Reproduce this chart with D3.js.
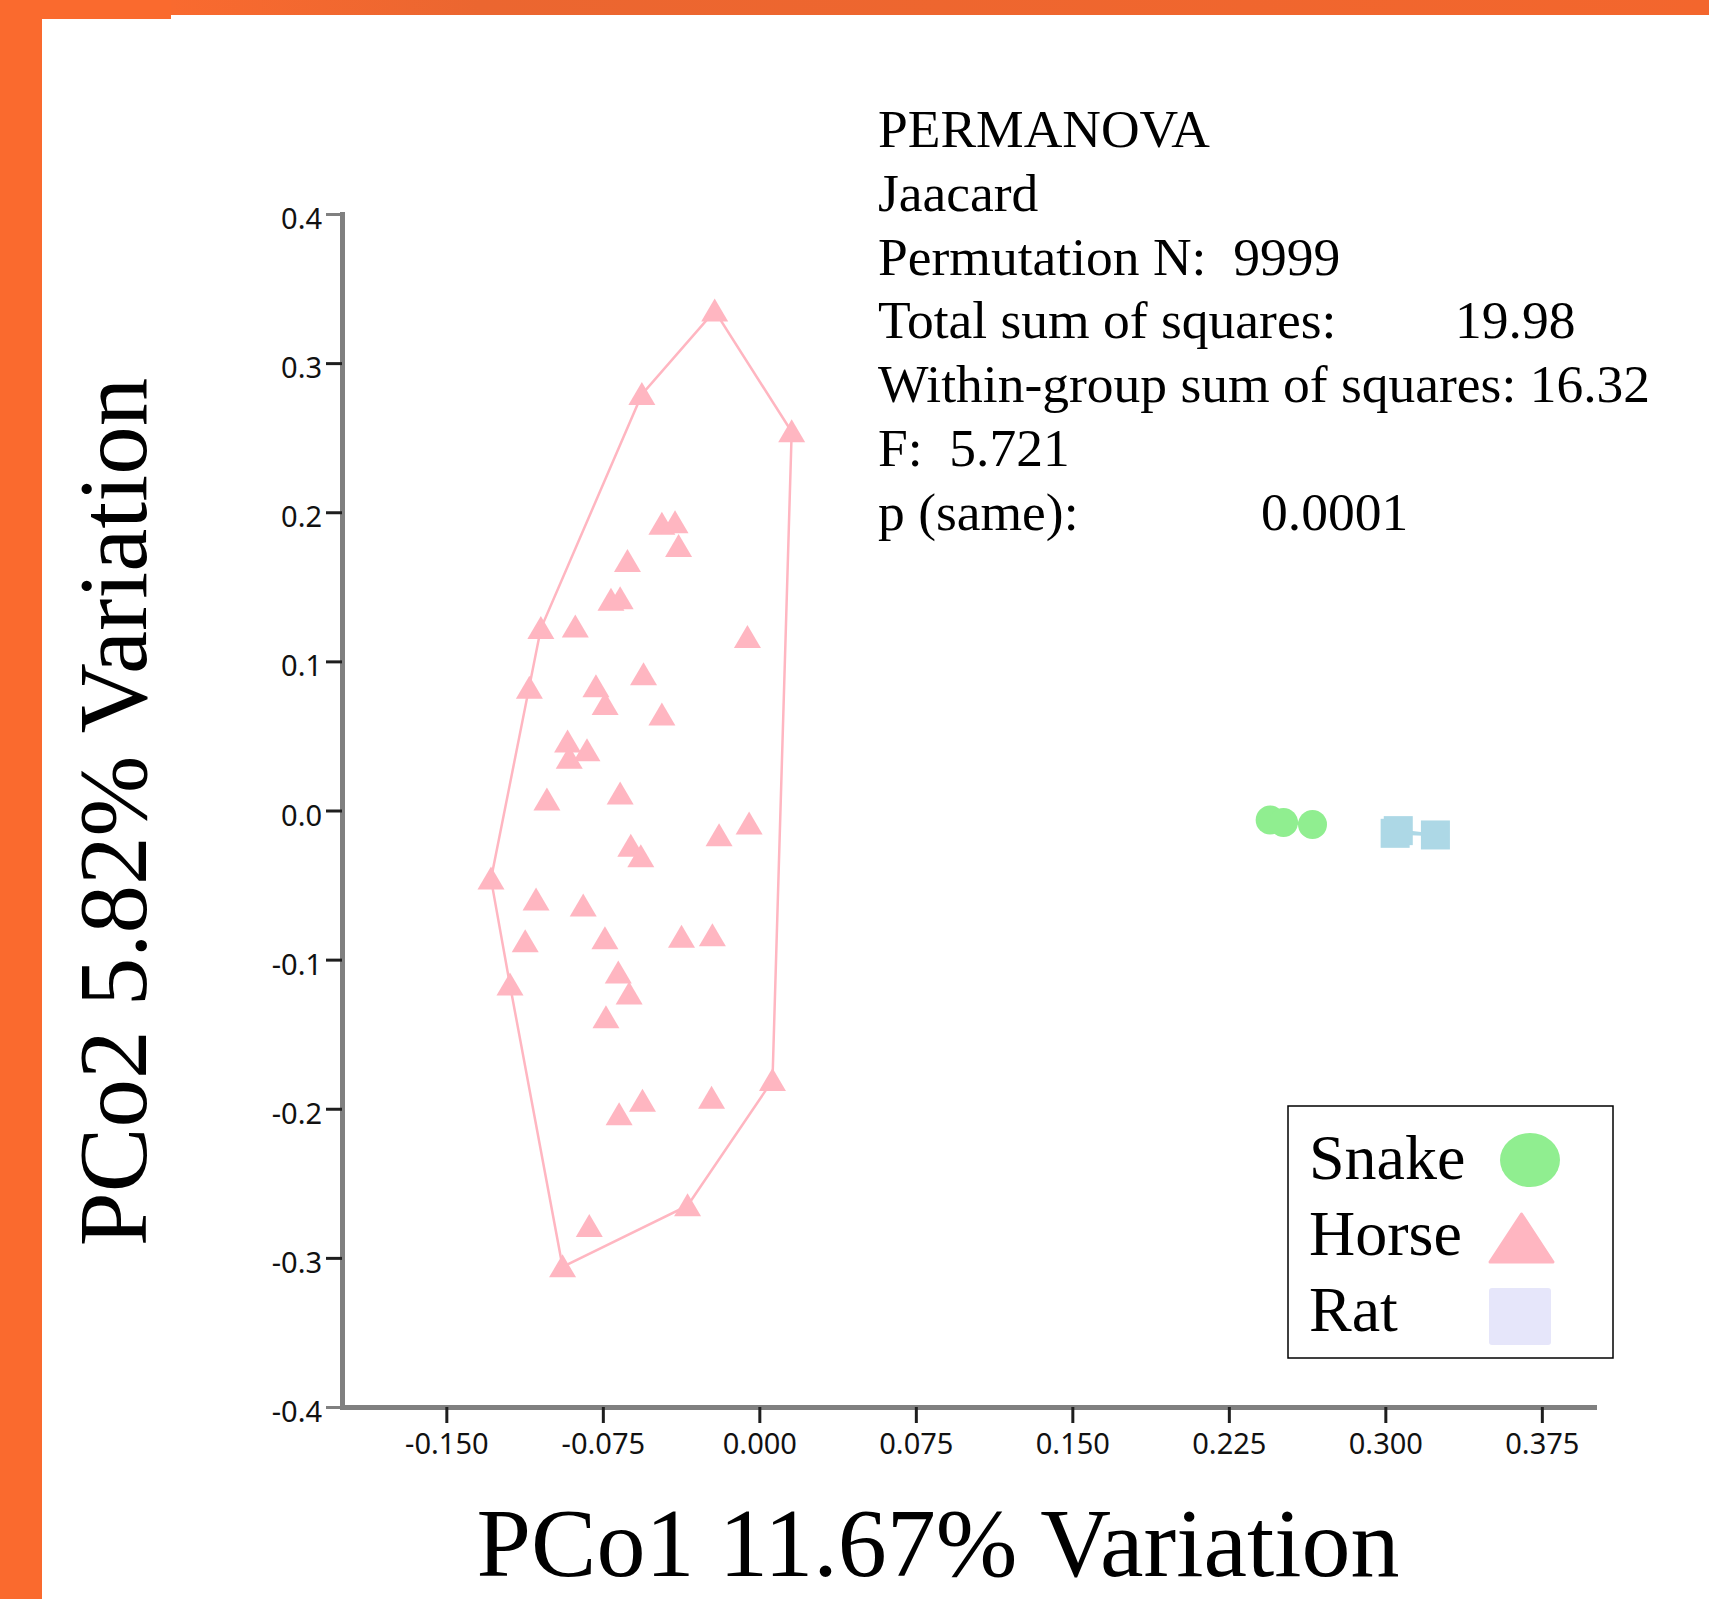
<!DOCTYPE html>
<html>
<head>
<meta charset="utf-8">
<script src="https://cdn.jsdelivr.net/npm/d3@7"></script>
<style>
  body { margin: 0; background: #fff; }
  svg { display: block; }
</style>
</head>
<body>
<div id="chart"></div>
<script>

// groups shown in the legend
var groups = ["Snake", "Horse", "Rat"];

// PCo1 / PCo2 scores
var snakeX = [0.2448, 0.2512, 0.2651];
var snakeY = [-0.0063, -0.0081, -0.0094];

var horseX = [-0.0214, -0.0563, 0.0155, -0.0467, -0.0404, -0.0387, -0.0632, -0.0711, -0.0667,
              -0.1047, -0.0882, -0.0057, -0.1102, -0.0783, -0.0555, -0.0739, -0.0467, -0.0919,
              -0.0826, -0.0911, -0.1018, -0.0667, -0.0049, -0.0193, -0.0616, -0.0568, -0.1286,
              -0.1070, -0.0844, -0.1122, -0.0740, -0.0373, -0.0225, -0.0676, -0.1195, -0.0624,
              -0.0735, 0.0063, -0.0672, -0.0560, -0.0229, -0.0344, -0.0815, -0.0943];
var horseY = [0.335, 0.279, 0.254, 0.192, 0.193, 0.177, 0.167, 0.141, 0.142,
              0.122, 0.123, 0.116, 0.082, 0.083, 0.091, 0.071, 0.064, 0.046,
              0.040, 0.035, 0.007, 0.011, -0.009, -0.017, -0.024, -0.031, -0.046,
              -0.060, -0.064, -0.088, -0.086, -0.085, -0.084, -0.109, -0.117, -0.123,
              -0.139, -0.181, -0.204, -0.195, -0.193, -0.265, -0.279, -0.306];

var ratX = [0.3062, 0.3047, 0.3240];
var ratY = [-0.0135, -0.0153, -0.0164];

// axis ticks
var xTicks = [-0.15, -0.075, 0, 0.075, 0.15, 0.225, 0.3, 0.375];
var xTickLabels = ["-0.150", "-0.075", "0.000", "0.075", "0.150", "0.225", "0.300", "0.375"];
var yTicks = [-0.4, -0.3, -0.2, -0.1, 0, 0.1, 0.2, 0.3, 0.4];
var yTickLabels = ["-0.4", "-0.3", "-0.2", "-0.1", "0.0", "0.1", "0.2", "0.3", "0.4"];

// PERMANOVA summary
var statLabels = ["PERMANOVA", "Jaacard", "Permutation N:  9999", "Total sum of squares:",
                  "Within-group sum of squares: 16.32", "F:  5.721", "p (same):"];
var statValues = ["", "", "", "19.98", "", "", "0.0001"];


var width = 1709, height = 1599;

var svg = d3.select("#chart")
  .append("svg")
    .attr("width", width)
    .attr("height", height);

// orange frame on the left and top
var grad = svg.append("defs").append("linearGradient")
    .attr("id", "topband")
    .attr("x1", "0").attr("x2", "1").attr("y1", "0").attr("y2", "0");
grad.append("stop").attr("offset", "0").attr("stop-color", "#f96a2f");
grad.append("stop").attr("offset", "0.2").attr("stop-color", "#eb6630");
grad.append("stop").attr("offset", "1").attr("stop-color", "#f3662d");

svg.append("rect").attr("x", 0).attr("y", 0).attr("width", 42).attr("height", height).attr("fill", "#fa6a2e");
svg.append("rect").attr("x", 0).attr("y", 0).attr("width", 171).attr("height", 19).attr("fill", "#fa6a2e");
svg.append("rect").attr("x", 171).attr("y", 0).attr("width", width - 171).attr("height", 15).attr("fill", "url(#topband)");

var x = d3.scaleLinear()
  .domain([-0.2, 0.4])
  .range([342, 1594]);

var y = d3.scaleLinear()
  .domain([-0.4, 0.4])
  .range([1407, 214]);

// X axis
var gx = svg.append("g")
  .attr("transform", "translate(0," + y(-0.4) + ")")
  .call(d3.axisBottom(x)
    .tickValues(xTicks)
    .tickFormat(function(d, i) { return xTickLabels[i]; })
    .tickSizeInner(16).tickSizeOuter(0).tickPadding(10));

// Y axis
var gy = svg.append("g")
  .attr("transform", "translate(" + x(-0.2) + ",0)")
  .call(d3.axisLeft(y)
    .tickValues(yTicks)
    .tickFormat(function(d, i) { return yTickLabels[i]; })
    .tickSizeInner(16).tickSizeOuter(0).tickPadding(4));

[gx, gy].forEach(function(g) {
  g.select(".domain")
    .attr("stroke", "#808080")
    .attr("stroke-width", 5)
    .attr("stroke-linecap", "square");
  g.selectAll(".tick line")
    .attr("stroke", "#1e1e1e")
    .attr("stroke-width", 3);
  g.selectAll(".tick text")
    .attr("fill", "#111")
    .style("font-family", "'Noto Sans', 'DejaVu Sans', sans-serif")
    .style("font-size", "29px");
});
gy.selectAll(".tick text").attr("dy", "0.5em");
gy.selectAll(".tick line")
  .filter(function(d) { return d === 0.4 || d === -0.4; })
  .attr("stroke", "#808080");

// axis titles
svg.append("text")
  .attr("x", 938)
  .attr("y", 1576)
  .attr("text-anchor", "middle")
  .style("font-family", "'Liberation Serif', 'Times New Roman', serif")
  .style("font-size", "98px")
  .text("PCo1 11.67% Variation");

svg.append("text")
  .attr("transform", "translate(146,812) rotate(-90)")
  .attr("text-anchor", "middle")
  .style("font-family", "'Liberation Serif', 'Times New Roman', serif")
  .style("font-size", "97px")
  .text("PCo2 5.82% Variation");

// convex hulls
function pts(xs, ys) {
  return xs.map(function(v, i) { return [x(v), y(ys[i])]; });
}
var hulls = [
  {pts: pts(horseX, horseY), color: "#ffb6c1"},
  {pts: pts(snakeX, snakeY), color: "#90ee90"},
  {pts: pts(ratX, ratY), color: "#add8e6"}
];
hulls.forEach(function(h) {
  var hull = d3.polygonHull(h.pts);
  svg.append("path")
    .attr("d", "M" + hull.join("L") + "Z")
    .attr("fill", "none")
    .attr("stroke", h.color)
    .attr("stroke-width", 2.5);
});

// points
svg.selectAll("path.horse")
  .data(horseX)
  .enter()
  .append("path")
    .attr("class", "horse")
    .attr("transform", function(d, i) { return "translate(" + x(d) + "," + y(horseY[i]) + ")"; })
    .attr("d", "M0,-12.5L13.5,10.5L-13.5,10.5Z")
    .attr("fill", "#ffb6c1");

svg.selectAll("circle.snake")
  .data(snakeX)
  .enter()
  .append("circle")
    .attr("class", "snake")
    .attr("cx", function(d) { return x(d); })
    .attr("cy", function(d, i) { return y(snakeY[i]); })
    .attr("r", 14.5)
    .attr("fill", "#90ee90");

svg.selectAll("rect.rat")
  .data(ratX)
  .enter()
  .append("rect")
    .attr("class", "rat")
    .attr("x", function(d) { return x(d) - 14.5; })
    .attr("y", function(d, i) { return y(ratY[i]) - 14.5; })
    .attr("width", 29)
    .attr("height", 29)
    .attr("fill", "#add8e6");

// PERMANOVA text
var stats = svg.append("g")
  .style("font-family", "'Liberation Serif', 'Times New Roman', serif")
  .style("font-size", "53.5px");
stats.selectAll("text.lab")
  .data(statLabels)
  .enter()
  .append("text")
    .attr("class", "lab")
    .attr("x", 878)
    .attr("y", function(d, i) { return 147 + i * 63.8; })
    .attr("xml:space", "preserve")
    .style("white-space", "pre")
    .text(function(d) { return d; });
stats.selectAll("text.val")
  .data(statValues)
  .enter()
  .append("text")
    .attr("class", "val")
    .attr("x", function(d, i) { return i === 3 ? 1455 : 1261; })
    .attr("y", function(d, i) { return 147 + i * 63.8; })
    .text(function(d) { return d; });

// legend
var legend = svg.append("g");
legend.append("rect")
  .attr("x", 1288).attr("y", 1106)
  .attr("width", 325).attr("height", 252)
  .attr("fill", "#fff")
  .attr("stroke", "#000")
  .attr("stroke-width", 1.5);

legend.selectAll("text")
  .data(groups)
  .enter()
  .append("text")
    .attr("x", 1309)
    .attr("y", function(d, i) { return 1179 + i * 76; })
    .style("font-family", "'Liberation Serif', 'Times New Roman', serif")
    .style("font-size", "64px")
    .text(function(d) { return d; });

legend.append("ellipse")
  .attr("cx", 1530).attr("cy", 1160)
  .attr("rx", 30).attr("ry", 27)
  .attr("fill", "#90ee90");
legend.append("path")
  .attr("d", "M1521.5,1214L1553,1262L1490,1262Z")
  .attr("fill", "#ffb6c1")
  .attr("stroke", "#ffb6c1")
  .attr("stroke-width", 3)
  .attr("stroke-linejoin", "round");
legend.append("rect")
  .attr("x", 1489).attr("y", 1288)
  .attr("width", 62).attr("height", 57)
  .attr("rx", 3)
  .attr("fill", "#e6e6fa");

</script>
</body>
</html>
